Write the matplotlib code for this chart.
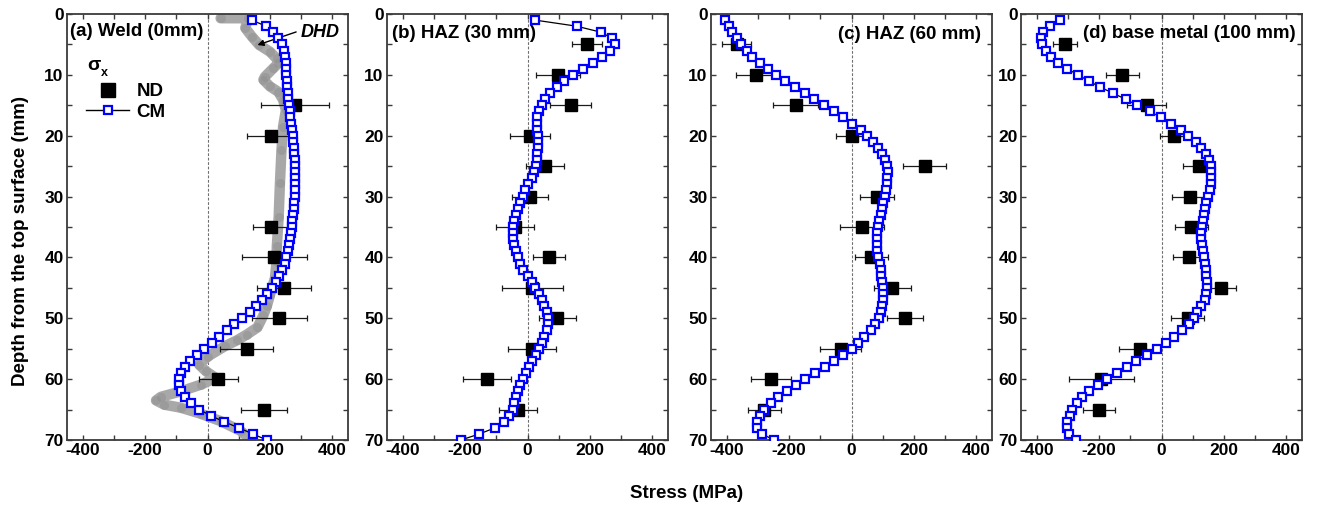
import matplotlib
matplotlib.use('Agg')
import matplotlib.pyplot as plt
from matplotlib.ticker import MultipleLocator
from matplotlib.lines import Line2D

plt.rcParams['font.family'] = ['Liberation Sans', 'DejaVu Sans']
plt.rcParams['font.weight'] = 'bold'
plt.rcParams['axes.unicode_minus'] = False

# ---------------- data ----------------
panel_titles = ['(a) Weld (0mm)', '(b) HAZ (30 mm)', '(c) HAZ (60 mm)', '(d) base metal (100 mm)']

cm_depth = [1, 2, 3, 4, 5, 6, 7, 8, 9, 10, 11, 12, 13, 14, 15, 16, 17, 18, 19, 20,
            21, 22, 23, 24, 25, 26, 27, 28, 29, 30, 31, 32, 33, 34, 35, 36, 37, 38, 39, 40,
            41, 42, 43, 44, 45, 46, 47, 48, 49, 50, 51, 52, 53, 54, 55, 56, 57, 58, 59, 60,
            61, 62, 63, 64, 65, 66, 67, 68, 69, 70]

cm_a = [142, 187, 211, 227, 240, 244, 248, 250, 252, 253, 254, 255, 257, 258, 261, 263, 265, 268, 271, 274,
        275, 277, 278, 279, 280, 280, 280, 280, 280, 279, 278, 276, 274, 272, 270, 268, 265, 262, 258, 253,
        247, 240, 230, 219, 207, 191, 174, 155, 135, 111, 86, 61, 37, 13, -11, -35, -55, -72, -84, -92,
        -92, -84, -72, -53, -26, 10, 53, 100, 145, 190]
cm_b = [24, 157, 236, 271, 279, 264, 239, 209, 177, 147, 117, 93, 72, 55, 45, 37, 32, 30, 32, 34,
        34, 34, 32, 30, 26, 21, 13, 3, -8, -16, -25, -32, -37, -43, -45, -46, -45, -43, -37, -32,
        -24, -13, 0, 13, 23, 37, 48, 53, 62, 66, 66, 61, 53, 46, 37, 26, 16, 5, -5, -16,
        -24, -32, -36, -42, -48, -59, -75, -104, -154, -213]
cm_c = [-405, -393, -382, -368, -354, -336, -318, -293, -269, -243, -213, -181, -149, -119, -87, -55, -27, 2, 29, 51,
        69, 85, 98, 107, 114, 117, 115, 113, 111, 107, 102, 97, 93, 88, 85, 83, 82, 82, 83, 85,
        90, 94, 95, 99, 101, 102, 101, 98, 94, 87, 75, 61, 41, 21, 0, -27, -55, -85, -117, -149,
        -179, -208, -237, -259, -279, -293, -304, -304, -286, -249]
cm_d = [-325, -357, -379, -385, -382, -371, -355, -332, -302, -268, -233, -197, -156, -115, -78, -38, -1, 31, 61, 85,
        109, 125, 141, 151, 157, 160, 159, 157, 154, 148, 144, 139, 135, 132, 130, 128, 128, 130, 132, 135,
        139, 142, 144, 146, 146, 144, 138, 125, 114, 103, 87, 66, 39, 13, -16, -48, -81, -112, -144, -174,
        -204, -233, -254, -272, -288, -294, -302, -302, -297, -275]

nd_depth_a = [15, 20, 35, 40, 45, 50, 55, 60, 65]
nd_a = [280, 203, 203, 214, 245, 230, 126, 35, 182]
err_a = [110, 75, 56, 105, 86, 88, 85, 63, 74]

nd_depth = [5, 10, 15, 20, 25, 30, 35, 40, 45, 50, 55, 60, 65]
nd_b = [191, 98, 138, 8, 56, 8, -40, 69, 16, 96, 14, -130, -30]
err_b = [49, 70, 66, 64, 60, 57, 62, 52, 97, 60, 77, 77, 60]
nd_c = [-368, -307, -179, 2, 235, 82, 34, 64, 131, 171, -35, -258, -279]
err_c = [47, 63, 71, 51, 69, 55, 71, 54, 60, 57, 67, 65, 52]
nd_d = [-310, -126, -48, 39, 119, 91, 96, 87, 192, 84, -69, -193, -201]
err_d = [39, 53, 62, 44, 49, 58, 54, 50, 47, 52, 68, 104, 52]

dhd_depth = [0.7, 0.7, 2.3, 3.7, 5.1, 6.2, 7.3, 8.1, 8.9, 10.3, 10.8, 11.9, 12.8, 14.1, 15.8, 18.5,
             22.3, 27.8, 33.3, 38.2, 40.7, 43.4, 46.2, 48.0, 49.5, 51.5, 52.7, 53.6, 54.6, 56.3,
             57.6, 58.7, 59.8, 60.9, 62.0, 62.9, 63.5, 64.2, 64.7, 65.7, 66.9, 68.5, 69.9]
dhd_a = [42, 130, 121, 142, 166, 200, 221, 227, 211, 184, 179, 200, 227, 242, 251, 242,
         237, 232, 228, 222, 221, 216, 200, 190, 179, 160, 125, 95, 55, 0,
         -27, -5, 26, -21, -85, -149, -165, -138, -85, -21, 42, 106, 138]

cm_series = [cm_a, cm_b, cm_c, cm_d]
nd_series = [(nd_depth_a, nd_a, err_a), (nd_depth, nd_b, err_b),
             (nd_depth, nd_c, err_c), (nd_depth, nd_d, err_d)]

# ---------------- figure ----------------
W, H = 1320, 515
fig = plt.figure(figsize=(W / 100, H / 100), dpi=100)
lefts = [67, 387, 711, 1021]
ax_w = 281
ax_top, ax_bot = 14, 440

title_pos = [(0.011, 0.960), (0.017, 0.955), (0.452, 0.951), (0.221, 0.955)]
frame_col = '#3a3a3a'

axes = []
for i, l in enumerate(lefts):
    ax = fig.add_axes([l / W, 1 - ax_bot / H, ax_w / W, (ax_bot - ax_top) / H])
    axes.append(ax)
    ax.axvline(0, color='#707070', ls=(0, (2.5, 1.5)), lw=0.8, zorder=1)
    if i == 0:
        ax.plot(dhd_a, dhd_depth, color='#a8a8a8', lw=7.5, solid_capstyle='round',
                solid_joinstyle='round', zorder=2)
        ax.plot(dhd_a, dhd_depth, ls='none', marker='o', ms=6.5, color='#8c8c8c',
                alpha=0.45, mec='none', zorder=2)
    dd, vv, ee = nd_series[i]
    ax.errorbar(vv, dd, xerr=ee, fmt='s', ms=9, color='k', ecolor='#1a1a1a',
                elinewidth=0.9, capsize=2.5, capthick=0.9, zorder=3)
    ax.plot(cm_series[i], cm_depth, '-', color='k', lw=0.9, marker='s', ms=5.3,
            mfc='white', mec='#0000ff', mew=1.6, zorder=4)

    ax.set_xlim(-450, 450)
    ax.set_ylim(70, 0)
    ax.xaxis.set_major_locator(MultipleLocator(200))
    ax.xaxis.set_minor_locator(MultipleLocator(100))
    ax.yaxis.set_major_locator(MultipleLocator(10))
    ax.yaxis.set_minor_locator(MultipleLocator(5))
    ax.tick_params(which='both', direction='in', top=True, right=True, length=3.5,
                   width=1.0, color=frame_col, labelsize=12.5, pad=2.5)
    for sp in ax.spines.values():
        sp.set_color(frame_col)
        sp.set_linewidth(1.3)
    tx, ty = title_pos[i]
    ax.text(tx, ty, panel_titles[i], transform=ax.transAxes, ha='left', va='center',
            fontsize=13.5, fontweight='bold', zorder=6)

# legend in panel (a)
ax = axes[0]
ax.text(0.071, 0.880, 'σ', transform=ax.transAxes, ha='left', va='center',
        fontsize=14, fontweight='bold')
ax.text(0.122, 0.862, 'x', transform=ax.transAxes, ha='left', va='center',
        fontsize=9, fontweight='bold')
h_nd = Line2D([], [], ls='none', marker='s', ms=10, color='k')
h_cm = Line2D([], [], color='k', lw=1, marker='s', ms=6, mfc='white', mec='#0000ff', mew=1.6)
ax.legend([h_nd, h_cm], ['ND', 'CM'], loc='upper left', bbox_to_anchor=(0.068, 0.838),
          frameon=False, fontsize=13.5, handlelength=2.3, handletextpad=0.4,
          labelspacing=0.2, borderpad=0, borderaxespad=0)

# DHD annotation
ax.annotate('DHD', xy=(160, 5.1), xytext=(297, 3.0), fontsize=13, fontweight='bold',
            fontstyle='italic', ha='left', va='center',
            arrowprops=dict(arrowstyle='-|>', color='k', lw=1, shrinkA=1, shrinkB=0,
                            mutation_scale=9, relpos=(0, 0.6)))

fig.text(0.0155, 1 - 241 / H, 'Depth from the top surface (mm)', rotation=90,
         ha='center', va='center', fontsize=13.5, fontweight='bold')
fig.text(687 / W, 1 - 494 / H, 'Stress (MPa)', ha='center', va='center',
         fontsize=13.5, fontweight='bold')

fig.savefig('out.png', dpi=100)
